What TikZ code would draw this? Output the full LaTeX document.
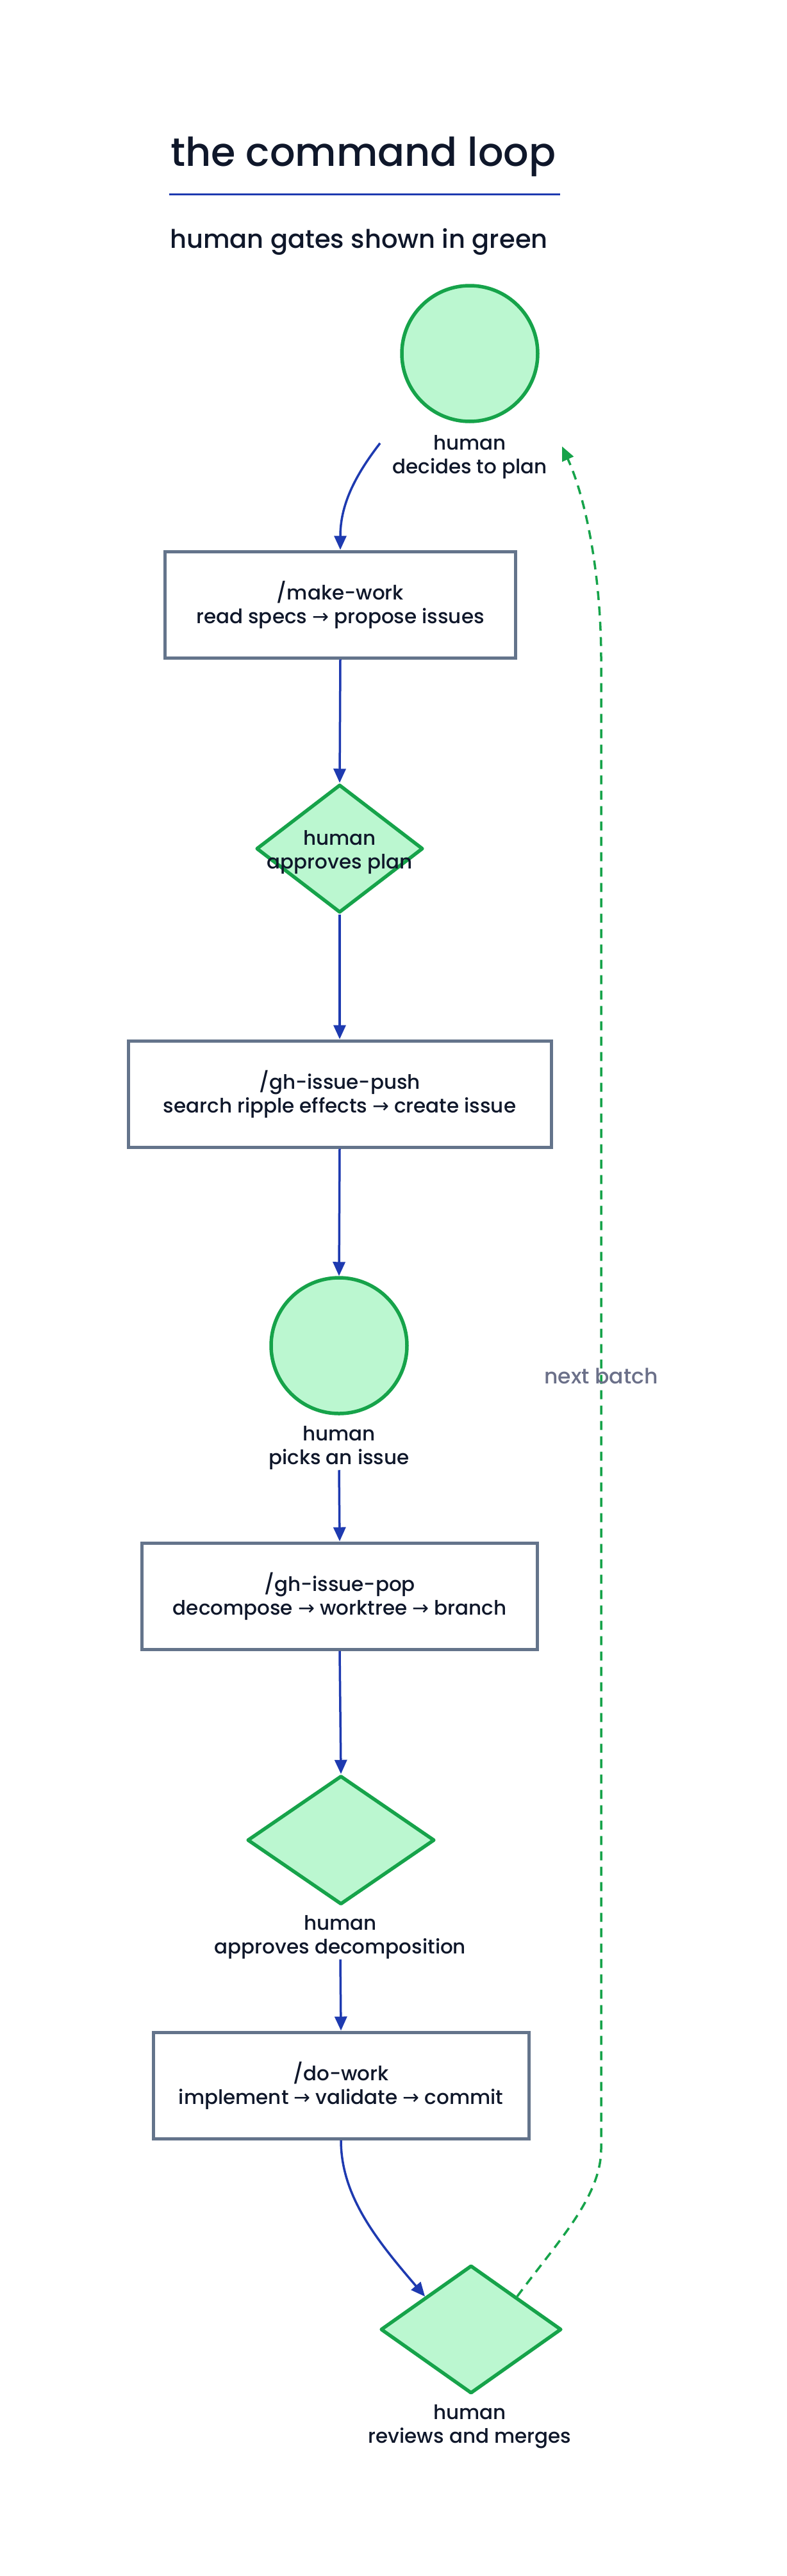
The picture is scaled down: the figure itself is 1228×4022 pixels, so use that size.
\documentclass[tikz,border=0pt]{standalone}
\usepackage{fontspec}
\setmainfont{Poppins}[UprightFont=*-Medium]
\newfontfamily\arrowfont{DejaVu Sans}
\usetikzlibrary{arrows.meta,shapes.geometric}

\definecolor{gatefill}{HTML}{BBF7D0}
\definecolor{gateline}{HTML}{16A34A}
\definecolor{flowblue}{HTML}{1E3AB0}
\definecolor{boxline}{HTML}{64748B}
\definecolor{inkdark}{HTML}{0F172A}
\definecolor{notegray}{HTML}{6B7089}

\newcommand{\thento}{{\arrowfont →}}

\tikzset{
  cmdbox/.style={draw=boxline, line width=5pt, fill=white, minimum height=166pt,
    inner sep=0pt, align=center, text=inkdark, font=\fontsize{31}{37}\selectfont},
  gatecircle/.style={circle, draw=gateline, fill=gatefill, line width=5.5pt,
    minimum size=212pt, inner sep=0pt},
  gatediamond/.style={diamond, draw=gateline, fill=gatefill, line width=5.5pt,
    inner sep=0pt, line join=round},
  gatetext/.style={align=center, inner sep=0pt, text=inkdark,
    font=\fontsize{31}{37}\selectfont},
  flow/.style={draw=flowblue, line width=3.5pt, -{Triangle[length=22pt,width=19pt]}},
  loopback/.style={draw=gateline, line width=3.5pt, dash pattern=on 14pt off 10pt,
    -{Triangle[length=22pt,width=19pt]}}
}

\begin{document}
\begin{tikzpicture}[x=1pt,y=-1pt]
  % 1. Page and heading
  \fill[white] (0,0) rectangle (1228,4022);
  \useasboundingbox (0,0) rectangle (1228,4022);
  \node[anchor=base west, inner sep=0pt, text=inkdark,
    font=\fontsize{62}{70}\selectfont] (title) at (266,260) {the command loop};
  \draw[flowblue, line width=3pt] (264,303) -- (874,303);
  \node[anchor=base west, inner sep=0pt, text=inkdark,
    font=\fontsize{40}{46}\selectfont] (subtitle) at (265,387) {human gates shown in green};

  % 2. Human gates (green)
  \node[gatecircle] (plan) at (733,552) {};
  \node[gatetext] (plantext) at (733,714) {human\\decides to plan};
  \node[gatediamond, minimum width=260pt, minimum height=200pt] (approve) at (530,1325) {};
  \node[gatetext] (approvetext) at (530,1331) {human\\approves plan};
  \node[gatecircle] (pick) at (529,2101) {};
  \node[gatetext] (picktext) at (529,2261) {human\\picks an issue};
  \node[gatediamond, minimum width=292pt, minimum height=201pt] (decomp) at (532,2873) {};
  \node[gatetext] (decomptext) at (531,3025) {human\\approves decomposition};
  \node[gatediamond, minimum width=282pt, minimum height=200pt] (review) at (735,3637) {};
  \node[gatetext] (reviewtext) at (733,3789) {human\\reviews and merges};

  % 3. Commands
  \node[cmdbox, minimum width=547pt] (makework) at (531,944)
    {/make-work\\read specs \thento{} propose issues};
  \node[cmdbox, minimum width=660pt] (push) at (530,1708)
    {/gh-issue-push\\search ripple effects \thento{} create issue};
  \node[cmdbox, minimum width=617pt] (pop) at (530,2492)
    {/gh-issue-pop\\decompose \thento{} worktree \thento{} branch};
  \node[cmdbox, minimum width=586pt] (dowork) at (532,3256)
    {/do-work\\implement \thento{} validate \thento{} commit};

  % 4. Flow
  \coordinate (planfrom) at (593,692);
  \coordinate (loopend) at (877,697);
  \draw[flow] (planfrom) .. controls (552,745) and (531,790) .. (makework.north);
  \draw[flow] (makework.south) -- (approve.north);
  \draw[flow] (approve.south) -- (push.north);
  \draw[flow] (push.south) -- (pick.north);
  \draw[flow] (picktext.south) -- (pop.north);
  \draw[flow] (pop.south) -- (decomp.north);
  \draw[flow] (decomptext.south) -- (dowork.north);
  \draw[flow] (dowork.south) .. controls (532,3430) and (590,3500) .. (review.north west);

  % 5. Loop back
  \draw[loopback] (review.north east) .. controls (870,3500) and (938,3430) .. (938,3355)
    -- (938,1030) .. controls (938,900) and (915,780) .. (loopend);
  \node[anchor=base, inner sep=0pt, text=notegray,
    font=\fontsize{33}{37}\selectfont] (nextbatch) at (938,2160) {next batch};
\end{tikzpicture}
\end{document}
